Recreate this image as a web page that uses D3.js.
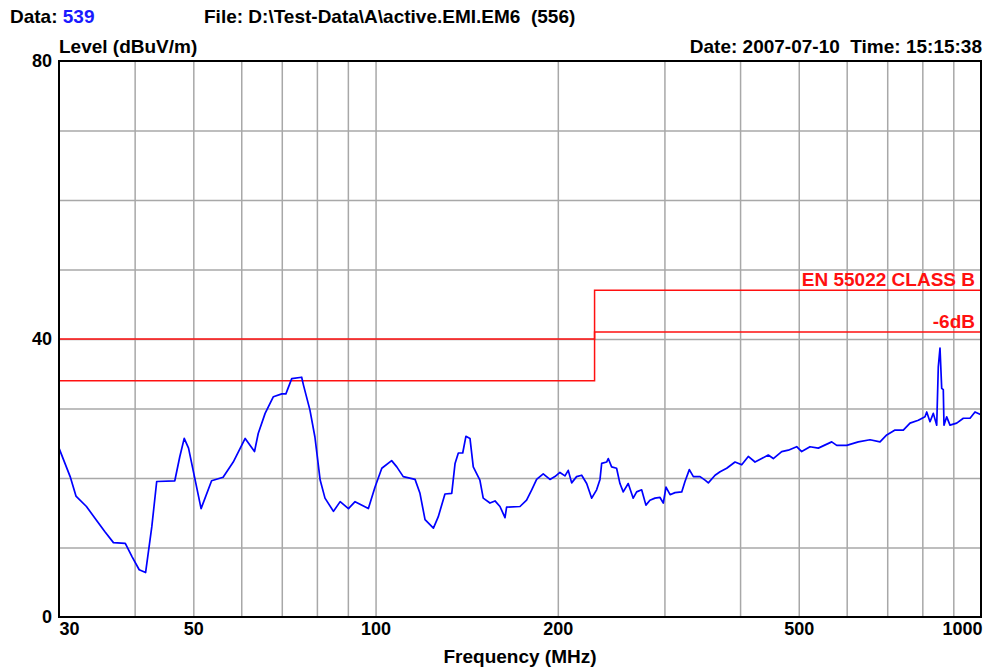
<!DOCTYPE html>
<html>
<head>
<meta charset="utf-8">
<script src="https://cdn.jsdelivr.net/npm/d3@7"></script>
<style>
  body { margin: 0; background: #fff; }
  text { font-family: "Liberation Sans", Arial, sans-serif; font-weight: bold; white-space: pre; }
</style>
</head>
<body>
<div id="chart"></div>
<script>
// measured trace (MHz / dBuV/m)
var freqs = [30, 31.3, 32.0, 33.3, 34.4, 35.7, 36.9, 38.6, 39.6, 40.7, 41.7, 42.7, 43.5, 46.6, 47.5, 48.3, 49.1,
  51.5, 53.6, 56.0, 58.2, 60.9, 63.1, 64.0, 65.7, 67.8, 70.0, 71.1, 72.7, 75.5, 76.0, 77.9, 79.4, 81.0, 82.5,
  85.2, 87.4, 90.2, 92.5, 97.3, 99.8, 102.4, 106.3, 108.4, 111.1, 116.2, 118.4, 120.7, 124.6, 126.9, 130.2,
  133.6, 135.3, 137.0, 139.3, 141.0, 143.2, 145.0, 148.7, 150.6, 154.5, 157.5, 160.5, 163.6, 164.6, 173.2,
  177.6, 181.1, 184.5, 189.2, 194.1, 197.8, 201.6, 205.5, 208.1, 210.8, 214.8, 219.0, 223.2, 227.5, 231.8,
  234.8, 236.3, 240.8, 242.3, 245.4, 250.1, 253.3, 256.5, 261.4, 266.4, 269.9, 275.1, 279.6, 283.9, 289.4,
  295.0, 298.7, 301.8, 306.5, 312.3, 320.4, 324.4, 329.8, 334.9, 343.5, 350.1, 354.5, 363.7, 370.7, 380.2,
  392.4, 402.5, 412.7, 423.4, 434.3, 445.3, 453.9, 468.6, 480.5, 496.1, 505.6, 521.9, 538.6, 566.8, 577.7,
  600.1, 627.1, 655.7, 681.1, 698.7, 721.1, 744.2, 763.4, 787.9, 808.2, 813.5, 823.7, 834.1, 845.0, 850.1,
  855.6, 861.2, 866.4, 868.7, 877.7, 888.8, 911.8, 935.0, 959.1, 977.5, 1000];
var levels = [24.3, 20.2, 17.4, 15.9, 14.2, 12.3, 10.7, 10.6, 8.7, 6.8, 6.4, 13.0, 19.5, 19.6, 23.1, 25.7, 24.3,
  15.6, 19.6, 20.1, 22.3, 25.7, 23.8, 26.4, 29.3, 31.7, 32.1, 32.1, 34.3, 34.5, 33.4, 29.8, 25.9, 19.7, 17.1,
  15.2, 16.6, 15.6, 16.6, 15.6, 18.7, 21.4, 22.5, 21.6, 20.2, 19.8, 17.8, 14.0, 12.8, 14.4, 17.7,
  17.8, 22.1, 23.6, 23.6, 26.0, 25.7, 21.6, 19.7, 17.1, 16.4, 16.7, 15.9, 14.3, 15.8, 15.9,
  16.8, 18.3, 19.8, 20.6, 19.8, 20.2, 20.8, 20.3, 21.1, 19.3, 20.2, 20.4, 19.2, 17.1, 18.3,
  19.8, 22.1, 22.3, 22.8, 21.6, 21.4, 19.2, 18.0, 19.2, 17.1, 18.0, 18.3, 16.1, 16.8, 17.1,
  17.2, 16.4, 18.7, 17.6, 17.9, 18.0, 19.5, 21.2, 20.2, 20.2, 19.7, 19.3, 20.4, 20.9, 21.4,
  22.3, 21.9, 23.1, 22.3, 22.8, 23.3, 22.8, 23.8, 24.0, 24.5, 23.8, 24.5, 24.3, 25.2, 24.7,
  24.7, 25.2, 25.5, 25.2, 26.2, 26.9, 26.9, 27.9, 28.3, 28.8, 29.5, 28.1, 29.3, 27.6, 36.0,
  38.7, 32.9, 32.7, 27.6, 28.8, 27.6, 27.9, 28.6, 28.6, 29.5, 29.1];

// EN 55022 class B limit and -6dB margin
var limitFreqs = [30, 230, 230, 1000];
var limitLevels = [40, 40, 47, 47];
var marginLevels = [34, 34, 41, 41];

var gridFreqs = [40, 50, 60, 70, 80, 90, 100, 200, 300, 400, 500, 600, 700, 800, 900];
var xTickFreqs = [30, 50, 100, 200, 500, 1000];
var gridLevels = [10, 20, 30, 40, 50, 60, 70];
var yTickLevels = [0, 40, 80];

var W = 997, H = 668;
var plot = {left: 59, right: 981, top: 61, bottom: 617};

var svg = d3.select("#chart").append("svg")
    .attr("width", W)
    .attr("height", H);

var x = d3.scaleLog().domain([30, 1000]).range([plot.left, plot.right]);
var y = d3.scaleLinear().domain([0, 80]).range([plot.bottom, plot.top]);

// grid
svg.append("g")
    .attr("transform", "translate(0," + plot.bottom + ")")
    .call(d3.axisBottom(x).tickValues(gridFreqs).tickSize(-(plot.bottom - plot.top)).tickFormat(""))
    .call(g => g.select(".domain").remove())
    .selectAll("line").attr("stroke", "#a8a8a8").attr("stroke-width", 1.5);

svg.append("g")
    .attr("transform", "translate(" + plot.left + ",0)")
    .call(d3.axisLeft(y).tickValues(gridLevels).tickSize(-(plot.right - plot.left)).tickFormat(""))
    .call(g => g.select(".domain").remove())
    .selectAll("line").attr("stroke", "#a8a8a8").attr("stroke-width", 1.5);

var line = d3.line()
    .x(function(d) { return x(d[0]); })
    .y(function(d) { return y(d[1]); });

// limit lines
svg.append("path")
    .datum(d3.zip(limitFreqs, limitLevels))
    .attr("fill", "none")
    .attr("stroke", "#ff1010")
    .attr("stroke-width", 1.5)
    .attr("d", line);

svg.append("path")
    .datum(d3.zip(limitFreqs, marginLevels))
    .attr("fill", "none")
    .attr("stroke", "#ff1010")
    .attr("stroke-width", 1.5)
    .attr("d", line);

// trace
svg.append("path")
    .datum(d3.zip(freqs, levels))
    .attr("fill", "none")
    .attr("stroke", "#0000ff")
    .attr("stroke-width", 1.7)
    .attr("stroke-linejoin", "round")
    .attr("d", line);

// frame
svg.append("rect")
    .attr("x", plot.left)
    .attr("y", plot.top)
    .attr("width", plot.right - plot.left)
    .attr("height", plot.bottom - plot.top)
    .attr("fill", "none")
    .attr("stroke", "#000")
    .attr("stroke-width", 2);

// axis labels
var xAxis = svg.append("g")
    .attr("transform", "translate(0," + plot.bottom + ")")
    .call(d3.axisBottom(x).tickValues(xTickFreqs).tickSize(0).tickPadding(5).tickFormat(d3.format("d")));
xAxis.select(".domain").remove();
xAxis.selectAll("text")
    .attr("font-size", 18)
    .attr("font-family", "Liberation Sans, Arial, sans-serif")
    .attr("font-weight", "bold")
    .attr("fill", "#000")
    .attr("text-anchor", function(d) { return d === 30 ? "start" : d === 1000 ? "end" : "middle"; })
    .attr("dx", function(d) { return d === 1000 ? 1 : 0; });

var yAxis = svg.append("g")
    .attr("transform", "translate(" + (plot.left - 7) + ",0)")
    .call(d3.axisLeft(y).tickValues(yTickLevels).tickSize(0).tickPadding(0));
yAxis.select(".domain").remove();
yAxis.selectAll("text")
    .attr("font-size", 18)
    .attr("font-family", "Liberation Sans, Arial, sans-serif")
    .attr("font-weight", "bold")
    .attr("fill", "#000");

svg.append("text")
    .attr("x", 520)
    .attr("y", 663)
    .attr("text-anchor", "middle")
    .attr("font-size", 19)
    .text("Frequency (MHz)");

// header
var dataLabel = svg.append("text")
    .attr("x", 10)
    .attr("y", 23)
    .attr("font-size", 19);
dataLabel.append("tspan").text("Data: ");
dataLabel.append("tspan").attr("fill", "#1a1aff").text("539");

svg.append("text")
    .attr("x", 204)
    .attr("y", 23)
    .attr("font-size", 19)
    .text("File: D:\\Test-Data\\A\\active.EMI.EM6  (556)");

svg.append("text")
    .attr("x", 59)
    .attr("y", 53)
    .attr("font-size", 19)
    .text("Level (dBuV/m)");

svg.append("text")
    .attr("x", 982)
    .attr("y", 53)
    .attr("text-anchor", "end")
    .attr("font-size", 19)
    .text("Date: 2007-07-10  Time: 15:15:38");

// limit legends
svg.append("text")
    .attr("x", 975)
    .attr("y", y(47) - 4)
    .attr("text-anchor", "end")
    .attr("font-size", 19)
    .attr("fill", "#ff1010")
    .text("EN 55022 CLASS B");

svg.append("text")
    .attr("x", 975)
    .attr("y", y(41) - 4)
    .attr("text-anchor", "end")
    .attr("font-size", 19)
    .attr("fill", "#ff1010")
    .text("-6dB");
</script>
</body>
</html>
